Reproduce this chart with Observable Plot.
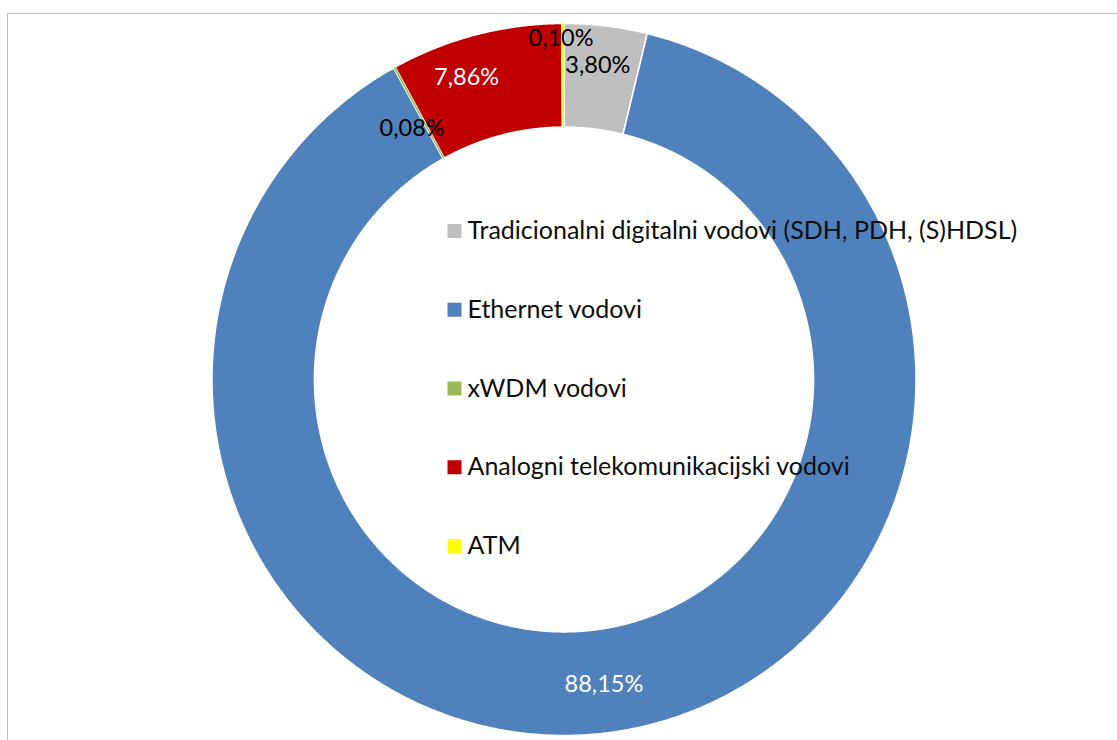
<!DOCTYPE html>
<html><head><meta charset="utf-8">
<script src="https://cdn.jsdelivr.net/npm/d3@7"></script>
<script src="https://cdn.jsdelivr.net/npm/@observablehq/plot@0.6"></script>
<style>
html,body{margin:0;padding:0;background:#fff;}
#wrap{position:relative;width:1117px;height:740px;overflow:hidden;}
#chart{position:absolute;left:0;top:0;}
#frame{position:absolute;left:7px;top:13px;width:1300px;height:900px;border-top:1.5px solid #a9c1e2;border-left:1.5px solid #a9c1e2;pointer-events:none;}
</style></head><body>
<div id="wrap"><div id="chart"></div><div id="frame"></div></div>
<script>
// ---- data ----
const categories = [
  "Tradicionalni digitalni vodovi (SDH, PDH, (S)HDSL)",
  "Ethernet vodovi",
  "xWDM vodovi",
  "Analogni telekomunikacijski vodovi",
  "ATM"
];
const values = [3.80, 88.15, 0.08, 7.86, 0.10];

// ---- styles / layout ----
const colors = ["#BFBFBF", "#4F81BD", "#9BBB59", "#C00000", "#FFFF00"];
const labelColors = ["#000000", "#ffffff", "#000000", "#ffffff", "#000000"];
const labelNudge = [[-2, -12], [0, 3], [-7, 16], [-22, -8], [-2, -37]];
const W = 1117, H = 740;
const CX = 563.5, CY = 379, RX = 352, RY = 356; // pixel centre and outer radii
const R_OUT = 1, R_IN = 0.709;
const FONT = "Lato, 'Open Sans', sans-serif";
const px2x = p => (p - CX) / RX;
const py2y = p => (CY - p) / RY;
const legend = {squareX: 454, textX: 467, top: 230.5, step: 78.75, r: 7.9};

// ---- geometry derived from values ----
const total = d3.sum(values);
let cum = 0;
const slices = categories.map((key, i) => {
  const a0 = cum / total * 2 * Math.PI;
  cum += values[i];
  const a1 = cum / total * 2 * Math.PI;
  return {key, i, value: values[i], a0, a1, mid: (a0 + a1) / 2};
});
const ring = slices.flatMap(s => {
  const n = Math.max(2, Math.ceil((s.a1 - s.a0) / (Math.PI / 720)));
  const pts = [];
  for (let k = 0; k <= n; k++) {
    const a = s.a0 + (s.a1 - s.a0) * k / n;
    pts.push({key: s.key, x: R_OUT * Math.sin(a), y: R_OUT * Math.cos(a)});
  }
  for (let k = n; k >= 0; k--) {
    const a = s.a0 + (s.a1 - s.a0) * k / n;
    pts.push({key: s.key, x: R_IN * Math.sin(a), y: R_IN * Math.cos(a)});
  }
  return pts;
});
const thin = new Set(slices.filter(s => s.value < 1).map(s => s.key));
const fmt = v => v.toFixed(2).replace(".", ",") + "%";
const rMid = (R_OUT + R_IN) / 2;

const labelMarks = slices.map(s => Plot.text([s], {
  x: d => rMid * Math.sin(d.mid),
  y: d => rMid * Math.cos(d.mid),
  text: d => fmt(d.value),
  fill: labelColors[s.i],
  dx: labelNudge[s.i][0],
  dy: labelNudge[s.i][1],
  fontSize: 23.5,
  textAnchor: "middle"
}));

const chart = Plot.plot({
  width: W, height: H, margin: 0,
  style: {fontFamily: FONT, background: "transparent"},
  x: {domain: [px2x(0), px2x(W)], axis: null},
  y: {domain: [py2y(H), py2y(0)], axis: null},
  color: {domain: categories, range: colors},
  marks: [
    Plot.line(ring, {x: "x", y: "y", z: "key", fill: "key", stroke: "white", strokeWidth: 1.5, curve: "linear-closed"}),
    Plot.line(ring.filter(p => thin.has(p.key)), {x: "x", y: "y", z: "key", fill: "key", stroke: null, curve: "linear-closed"}),
    ...labelMarks,
    Plot.dot(slices, {
      x: () => px2x(legend.squareX),
      y: d => py2y(legend.top + d.i * legend.step),
      fill: "key", symbol: "square", r: legend.r
    }),
    Plot.text(slices, {
      x: () => px2x(legend.textX),
      y: d => py2y(legend.top + d.i * legend.step),
      text: "key", textAnchor: "start", fill: "#0d0d0d", fontSize: 25
    })
  ]
});
document.getElementById("chart").appendChild(chart);
</script>
</body></html>
